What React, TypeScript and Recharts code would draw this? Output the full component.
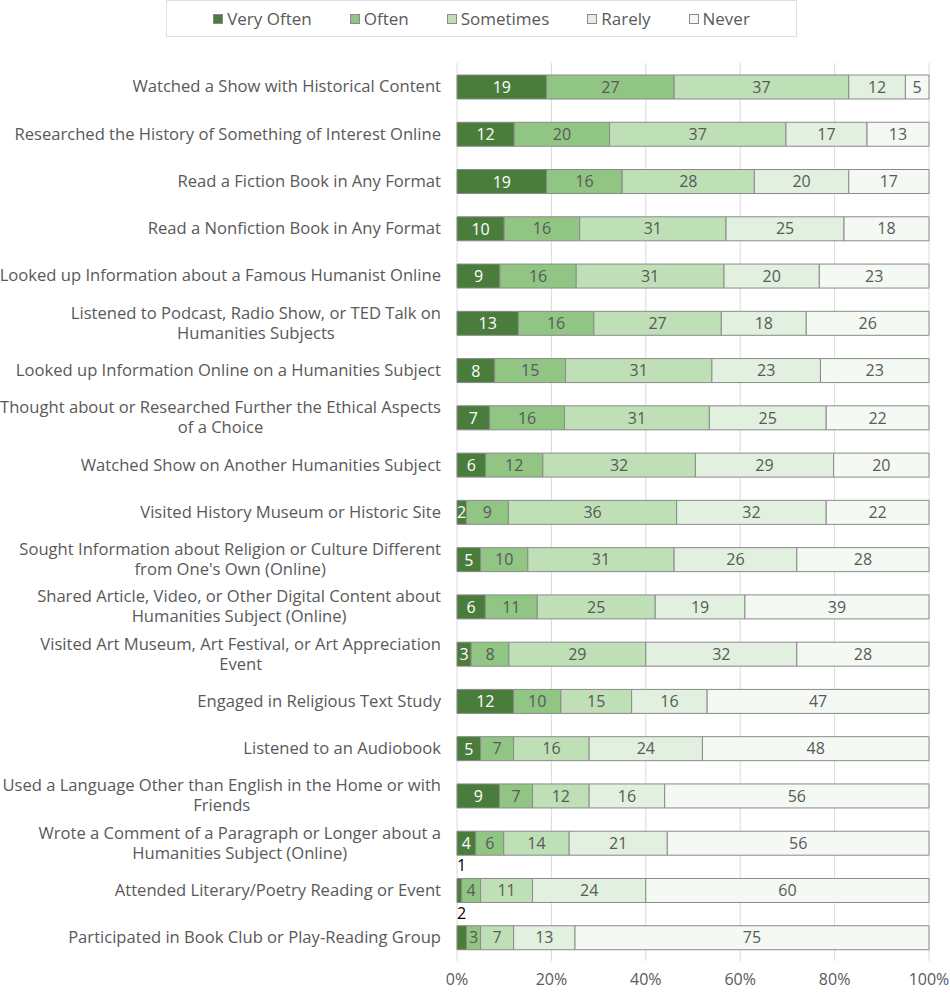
import React from 'react';
import { BarChart, Bar, XAxis, YAxis, CartesianGrid, LabelList } from 'recharts';

// "\n" marks where the reference wraps the category text
const categories = [
  'Watched a Show with Historical Content',
  'Researched the History of Something of Interest Online',
  'Read a Fiction Book in Any Format',
  'Read a Nonfiction Book in Any Format',
  'Looked up Information about a Famous Humanist Online',
  'Listened to Podcast, Radio Show, or TED Talk on\nHumanities Subjects',
  'Looked up Information Online on a Humanities Subject',
  'Thought about or Researched Further the Ethical Aspects\nof a Choice',
  'Watched Show on Another Humanities Subject',
  'Visited History Museum or Historic Site',
  "Sought Information about Religion or Culture Different\nfrom One's Own (Online)",
  'Shared Article, Video, or Other Digital Content about\nHumanities Subject (Online)',
  'Visited Art Museum, Art Festival, or Art Appreciation\nEvent',
  'Engaged in Religious Text Study',
  'Listened to an Audiobook',
  'Used a Language Other than English in the Home or with\nFriends',
  'Wrote a Comment of a Paragraph or Longer about a\nHumanities Subject (Online)',
  'Attended Literary/Poetry Reading or Event',
  'Participated in Book Club or Play-Reading Group',
];

const veryOften = [19, 12, 19, 10, 9, 13, 8, 7, 6, 2, 5, 6, 3, 12, 5, 9, 4, 1, 2];
const often = [27, 20, 16, 16, 16, 16, 15, 16, 12, 9, 10, 11, 8, 10, 7, 7, 6, 4, 3];
const sometimes = [37, 37, 28, 31, 31, 27, 31, 31, 32, 36, 31, 25, 29, 15, 16, 12, 14, 11, 7];
const rarely = [12, 17, 20, 25, 20, 18, 23, 25, 29, 32, 26, 19, 32, 16, 24, 16, 21, 24, 13];
const never = [5, 13, 17, 18, 23, 26, 23, 22, 20, 22, 28, 39, 28, 47, 48, 56, 56, 60, 75];

const seriesNames = ['Very Often', 'Often', 'Sometimes', 'Rarely', 'Never'];
const seriesValues = [veryOften, often, sometimes, rarely, never];
const seriesColors = ['#4a7d3c', '#91c584', '#bfdfb7', '#e2f0df', '#f4f9f3'];

// rows whose tiny "Very Often" label sits above the bar
const outsideLabelRows = [17, 18];

const xTicks = [0, 0.2, 0.4, 0.6, 0.8, 1];

const FONT = '"Open Sans", Lato, sans-serif';
const TEXT_COLOR = '#595959';
const TICK_SIZE = 16.6;

const data = categories.map((name, i) => {
  const row: any = { name };
  seriesNames.forEach((s, k) => {
    row[s] = seriesValues[k][i];
  });
  return row;
});

let measureCtx: CanvasRenderingContext2D | null = null;
const measure = (s: string) => {
  if (!measureCtx) measureCtx = document.createElement('canvas').getContext('2d');
  if (!measureCtx) return s.length * 8;
  measureCtx.font = `${TICK_SIZE}px ${FONT}`;
  return measureCtx.measureText(s).width;
};

// multi-line labels are centred as a block whose right edge sits at x
const CategoryTick = ({ x, y, payload }: any) => {
  const lines = String(payload.value).split('\n');
  const single = lines.length === 1;
  const blockW = single ? 0 : Math.max(...lines.map(measure));
  const cx = x - blockW / 2;
  return (
    <text
      textAnchor={single ? 'end' : 'middle'}
      fontSize={TICK_SIZE}
      fontFamily={FONT}
      fill={TEXT_COLOR}
    >
      {lines.map((line, i) => (
        <tspan key={i} x={cx} y={y + (i - (lines.length - 1) / 2) * 20} dy="0.35em">
          {line}
        </tspan>
      ))}
    </text>
  );
};

const VeryOftenLabel = (props: any) => {
  const { x, y, width, height, value, index } = props;
  if (outsideLabelRows.includes(index)) {
    return (
      <text x={x} y={y - 7} fontSize={16} fontFamily={FONT} fill="#000">
        {value}
      </text>
    );
  }
  return (
    <text
      x={x + width / 2}
      y={y + height / 2}
      textAnchor="middle"
      dominantBaseline="central"
      fontSize={16}
      fontFamily={FONT}
      fill="#ffffff"
    >
      {value}
    </text>
  );
};

const ChartLegend = () => (
  <div
    style={{
      position: 'absolute',
      left: 166,
      top: 0,
      width: 631,
      height: 37,
      boxSizing: 'border-box',
      border: '1px solid #e0e0e0',
      display: 'flex',
      justifyContent: 'center',
      alignItems: 'center',
      gap: 38,
      fontFamily: FONT,
      fontSize: 17,
      color: TEXT_COLOR,
    }}
  >
    {seriesNames.map((s, k) => (
      <div key={s} style={{ display: 'flex', alignItems: 'center', gap: 4 }}>
        <span
          style={{
            width: 10,
            height: 10,
            boxSizing: 'border-box',
            background: seriesColors[k],
            border: '1px solid #8a8a8a',
            display: 'inline-block',
          }}
        />
        <span>{s}</span>
      </div>
    ))}
  </div>
);

export default function App() {
  return (
    <div style={{ position: 'absolute', left: 0, top: 0, width: 950, height: 993, background: '#fff' }}>
      <ChartLegend />
      <BarChart
        width={950}
        height={993}
        data={data}
        layout="vertical"
        stackOffset="expand"
        barSize={24}
        margin={{ top: 63, right: 21, bottom: 1, left: 0 }}
      >
        <CartesianGrid horizontal={false} stroke="#dadada" />
        <XAxis
          type="number"
          domain={[0, 1]}
          ticks={xTicks}
          tickFormatter={(v) => `${Math.round(v * 100)}%`}
          axisLine={false}
          tickLine={false}
          height={31}
          tickMargin={7}
          tick={{ fontSize: 16, fontFamily: FONT, fill: TEXT_COLOR }}
        />
        <YAxis
          type="category"
          dataKey="name"
          width={457}
          axisLine={false}
          tickLine={false}
          tickMargin={10}
          interval={0}
          tick={<CategoryTick />}
        />
        {seriesNames.map((s, k) => (
          <Bar
            key={s}
            dataKey={s}
            stackId="a"
            fill={seriesColors[k]}
            stroke="#8a8a8a"
            strokeWidth={1}
            isAnimationActive={false}
          >
            {k === 0 ? (
              <LabelList dataKey={s} content={<VeryOftenLabel />} />
            ) : (
              <LabelList
                dataKey={s}
                position="center"
                fill={TEXT_COLOR}
                fontSize={16}
                fontFamily={FONT}
              />
            )}
          </Bar>
        ))}
      </BarChart>
    </div>
  );
}
